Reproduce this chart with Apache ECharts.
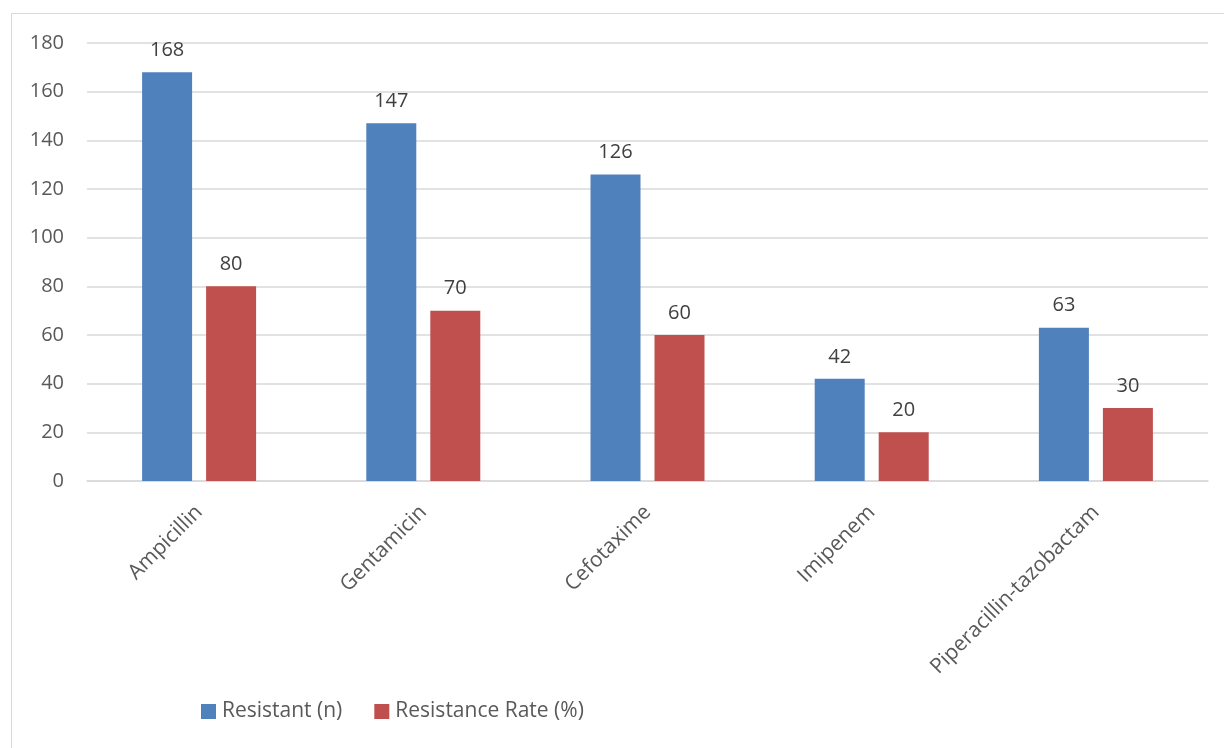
<!DOCTYPE html>
<html>
<head>
<meta charset="utf-8">
<script src="https://cdn.jsdelivr.net/npm/echarts@6/dist/echarts.min.js"></script>
<style>
  html, body { margin: 0; padding: 0; background: #fff; }
  #frame { position: absolute; left: 11px; top: 13px; width: 1240px; height: 760px;
           border: 1.5px solid #D9D9D9; box-sizing: border-box; }
  #chart { position: absolute; left: 0; top: 0; width: 1224px; height: 748px; }
</style>
</head>
<body>
<div id="frame"></div>
<div id="chart"></div>
<script>
// Antibiotic resistance counts and rates
const categories = ['Ampicillin', 'Gentamicin', 'Cefotaxime', 'Imipenem', 'Piperacillin-tazobactam'];
const resistantN = [168, 147, 126, 42, 63];
const resistanceRate = [80, 70, 60, 20, 30];
const seriesNames = ['Resistant (n)', 'Resistance Rate (%)'];

const FONT = 'Open Sans';
const TEXT = '#595959';
const GRID = '#D9D9D9';

const chart = echarts.init(document.getElementById('chart'), null, { renderer: 'canvas' });

const label = {
  show: true,
  position: 'top',
  distance: 12,
  color: '#404040',
  fontFamily: FONT,
  fontSize: 20
};

chart.setOption({
  animation: false,
  backgroundColor: 'transparent',
  grid: { left: 87, right: 16, top: 43, bottom: 267, containLabel: false },
  legend: {
    data: seriesNames,
    left: 196,
    top: 696,
    itemWidth: 15,
    itemHeight: 15,
    itemGap: 32,
    icon: 'rect',
    textStyle: { color: TEXT, fontFamily: FONT, fontSize: 21, padding: [0, 0, 0, 1] }
  },
  xAxis: {
    type: 'category',
    data: categories,
    axisLine: { lineStyle: { color: GRID, width: 1.5 } },
    axisTick: { show: false },
    axisLabel: {
      rotate: 45,
      interval: 0,
      margin: 28,
      color: TEXT,
      fontFamily: FONT,
      fontSize: 21
    }
  },
  yAxis: {
    type: 'value',
    min: 0,
    max: 180,
    interval: 20,
    axisLine: { show: false },
    axisTick: { show: false },
    splitLine: { lineStyle: { color: GRID, width: 1.5 } },
    axisLabel: { margin: 23, color: TEXT, fontFamily: FONT, fontSize: 20 }
  },
  series: [
    {
      name: seriesNames[0],
      type: 'bar',
      data: resistantN,
      barWidth: 50,
      barGap: '28%',
      itemStyle: { color: '#4F81BD' },
      label
    },
    {
      name: seriesNames[1],
      type: 'bar',
      data: resistanceRate,
      barWidth: 50,
      itemStyle: { color: '#C0504D' },
      label
    }
  ]
});
</script>
</body>
</html>
